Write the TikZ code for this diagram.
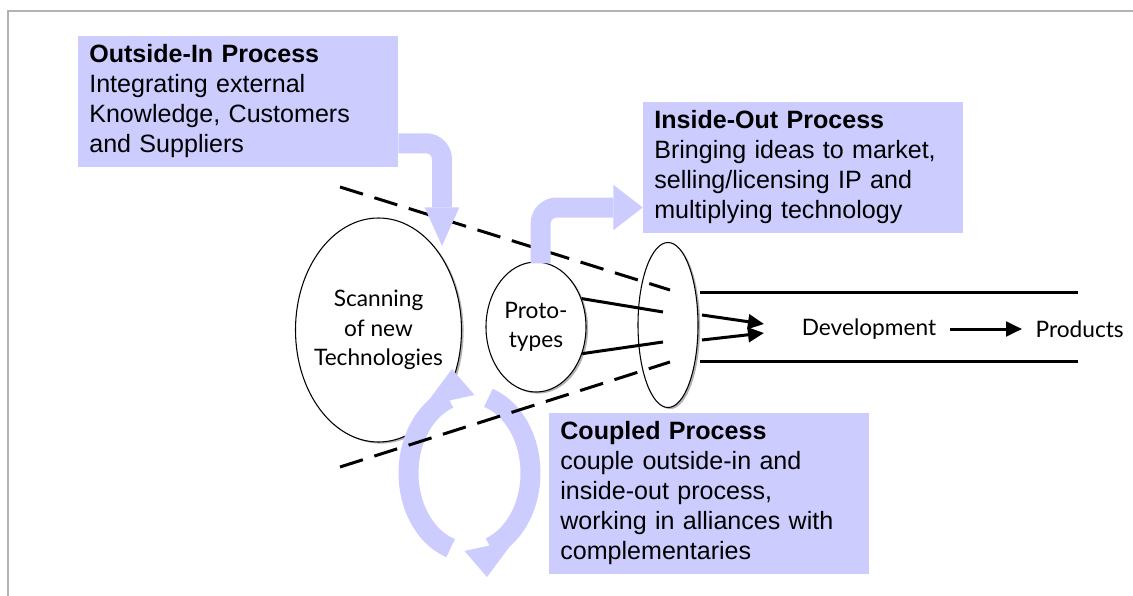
\documentclass[tikz,border=0pt]{standalone}
\usepackage{fontspec}
\setmainfont{Liberation Sans}
\newfontfamily\gillfont{Lato}
\usetikzlibrary{arrows.meta,shapes.geometric,shadows}
\definecolor{lav}{RGB}{204,204,255}
\begin{document}
\begin{tikzpicture}[x=0.75pt,y=-0.75pt,
        procbox/.style={fill=lav, minimum width=240pt, text width=223pt, inner xsep=8.5pt, align=left, font=\fontsize{18.8}{22.5}\selectfont},
        oval/.style={ellipse, draw, line width=0.8pt, fill=white, inner sep=0pt, drop shadow={shadow xshift=1.6pt, shadow yshift=-1.2pt, opacity=0.55, fill=black!55}},
        gill/.style={align=center, font=\gillfont\fontsize{17}{22}\selectfont},
        flow/.style={lav, line width=15pt, rounded corners=12pt},
        cone/.style={line width=2.25pt, dash pattern=on 18pt off 9pt},
        feed/.style={line width=2.25pt},
        push/.style={line width=2.25pt, -{Triangle[width=11pt,length=12pt]}}]
            \def\cyclearrow{
                \draw[lav, line width=15pt] plot[domain=108:250, samples=40, variable=\t] ({61*cos(\t)}, {79*sin(\t)});
                \fill[lav] (-17.5,-104) -- (-45,-67) -- (5,-78) -- cycle;}
            \useasboundingbox (0,0) rectangle (1133,596);
            \draw[gray!60, line width=1.1pt] (8,596) |- (1133,11);
            \node[procbox, minimum height=98.25pt] (oibox) at (238,101.5) {\textbf{Outside-In Process}\\Integrating external\\Knowledge, Customers\\and Suppliers};
            \node[procbox, minimum height=98.25pt] (iobox) at (803,167.5) {\textbf{Inside-Out Process}\\Bringing ideas to market,\\selling/licensing IP and\\multiplying technology};
            \node[procbox, minimum height=120.75pt] (cpbox) at (709,493.5) {\textbf{Coupled Process}\\couple outside-in and\\inside-out process,\\working in alliances with\\complementaries};
            \node[oval, minimum width=45pt, minimum height=123.75pt] (gate) at (668,325) {};
            \node[oval, minimum width=124.5pt, minimum height=168pt] (scan) at (378.5,330) {};
            \node[gill] (scanlabel) at (scan) {Scanning\\of new\\Technologies};
            \begin{scope}[shift={(469.5,473)}]
                \cyclearrow
            \end{scope}
            \begin{scope}[shift={(469.5,473)}, rotate=180]
                \cyclearrow
            \end{scope}
            \draw[cone] (340,187) -- (670,290);
            \draw[cone] (340,467) -- (670,362);
            \coordinate (oitip) at (442,246);
            \draw[flow, -{Triangle[width=26pt,length=29pt,line width=0pt]}] ([yshift=18pt]oibox.south east) -| (oitip);
            \node[oval, minimum width=75pt, minimum height=97.5pt] (proto) at (536,327) {};
            \node[gill] (protolabel) at (proto) {Proto-\\types};
            \draw[flow, -{Triangle[width=34pt,length=22pt,line width=0pt]}] ([xshift=3.5pt,yshift=-1.5pt]proto.north) |- ([yshift=-30pt]iobox.west);
            \coordinate (p1) at (663,312);
            \coordinate (p2) at (663,342);
            \draw[feed] (proto.32) -- (p1);
            \draw[feed] (proto.-30) -- (p2);
            \draw[feed] (700,292) -- (1078,292);
            \draw[feed] (700,361) -- (1078,361);
            \coordinate (a1) at (702,315);
            \coordinate (a2) at (702,340);
            \coordinate (t1) at (764,324);
            \coordinate (t2) at (764,333);
            \draw[push] (a1) -- (t1);
            \draw[push] (a2) -- (t2);
            \node[gill, inner xsep=10pt] (dev) at (869,329) {Development};
            \node[gill, inner xsep=10pt, anchor=west] (prod) at (1022,329) {Products};
            \draw[push] (dev) -- (prod);
        \end{tikzpicture}
\end{document}
